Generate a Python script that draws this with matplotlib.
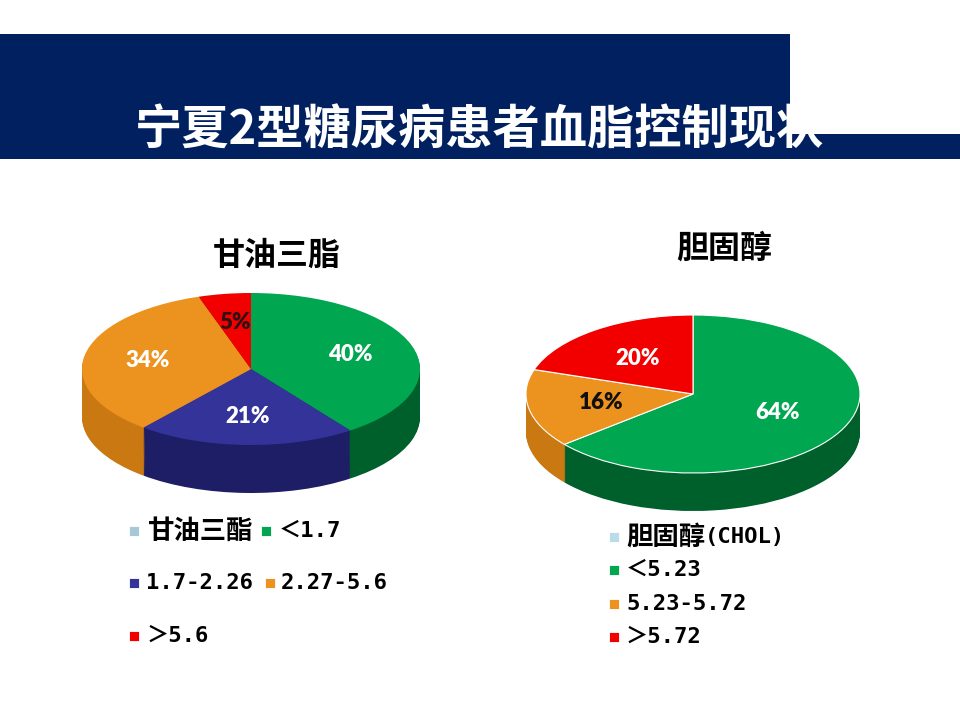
import matplotlib
matplotlib.use("Agg")
import matplotlib.pyplot as plt
from matplotlib.patches import Rectangle
import numpy as np

plt.rcParams['font.family'] = ['Noto Sans CJK SC', 'DejaVu Sans']

# data
title = "宁夏2型糖尿病患者血脂控制现状"
tg_title = "甘油三脂"
tg_labels = ["＜1.7", "1.7-2.26", "2.27-5.6", "＞5.6"]
tg_values = [40, 21, 34, 5]
tg_colors = ["#00a650", "#33339a", "#ec921e", "#f20000"]
tg_sides = ["#00602c", "#1e1e66", "#c97812", "#a00000"]
tg_pct_colors = ["white", "white", "white", "#301010"]

ch_title = "胆固醇"
ch_labels = ["＜5.23", "5.23-5.72", "＞5.72"]
ch_values = [64, 16, 20]
ch_colors = ["#00a650", "#ec921e", "#f20000"]
ch_sides = ["#00602c", "#c97812", "#a00000"]
ch_pct_colors = ["white", "#101010", "white"]

W, H = 960, 720
fig = plt.figure(figsize=(9.6, 7.2), dpi=100)

# background axes in pixel coordinates
bg = fig.add_axes([0, 0, 1, 1])
bg.set_xlim(0, W)
bg.set_ylim(H, 0)
bg.axis('off')

navy = "#002060"
bg.add_patch(Rectangle((0, 34), 790, 125, color=navy, lw=0))
bg.add_patch(Rectangle((790, 134), 170, 25, color=navy, lw=0))
bg.text(479, 131, title, color="white", fontsize=34, fontweight="bold",
        ha="center", va="center", zorder=5)


def pie3d(cx, cy, rx, ry, depth, values, colors, sides, pct_colors, edge, pdist):
    ax = fig.add_axes([(cx - rx) / W, 1 - (cy + ry + depth) / H,
                       2 * rx / W, (2 * ry + depth) / H])
    d = depth / ry
    for t in np.linspace(d, 0.0, 50)[:-1]:
        ax.pie(values, colors=sides, startangle=90, counterclock=False,
               center=(0, -t), radius=1, wedgeprops=dict(linewidth=0))
    wedges, texts, autotexts = ax.pie(
        values, colors=colors, startangle=90, counterclock=False,
        radius=1, autopct='%.0f%%', pctdistance=pdist,
        wedgeprops=dict(linewidth=edge, edgecolor="white"),
        textprops=dict(fontsize=16, fontweight="heavy", family="Lato"))
    for at, c in zip(autotexts, pct_colors):
        at.set_color(c)
    ax.set_aspect('auto')
    ax.set_xlim(-1, 1)
    ax.set_ylim(-1 - d, 1)
    ax.axis('off')
    return ax


pie3d(251, 369, 169, 76, 48, tg_values, tg_colors, tg_sides, tg_pct_colors, 0, 0.62)
pie3d(693, 394, 167, 79, 38, ch_values, ch_colors, ch_sides, ch_pct_colors, 0.8, 0.56)

bg.text(277, 256, tg_title, fontsize=23, fontweight="bold", ha="center", va="center")
bg.text(724, 249, ch_title, fontsize=23, fontweight="bold", ha="center", va="center")

mono = ['DejaVu Sans Mono', 'Noto Sans CJK SC']


def marker(x, y, c):
    bg.scatter([x], [y], s=48, marker='s', color=c, edgecolors="#ffffff",
               linewidths=0.6, zorder=6)


def label(x, y, s, cjk=False):
    if cjk:
        bg.text(x, y, s, fontsize=19, fontweight="bold", va="center", ha="left")
    else:
        bg.text(x, y, s, fontsize=16, family=mono, fontweight="bold",
                va="center", ha="left")


# left legend
marker(134, 531, "#a9c8d6")
label(147, 531, "甘油三酯", cjk=True)
marker(266, 531, tg_colors[0])
label(279, 531, tg_labels[0])
marker(134, 583, tg_colors[1])
label(146, 583, tg_labels[1])
marker(270, 583, tg_colors[2])
label(281, 583, tg_labels[2])
marker(134, 636, tg_colors[3])
label(147, 636, tg_labels[3])

# right legend
marker(614, 537, "#b8dde6")
label(626, 537, "胆固醇", cjk=True)
label(705, 537, "(CHOL)")
for y, lab, c in zip([570, 604, 637], ch_labels, ch_colors):
    marker(614, y, c)
    label(626, y, lab)

fig.savefig("out.png", dpi=100)
